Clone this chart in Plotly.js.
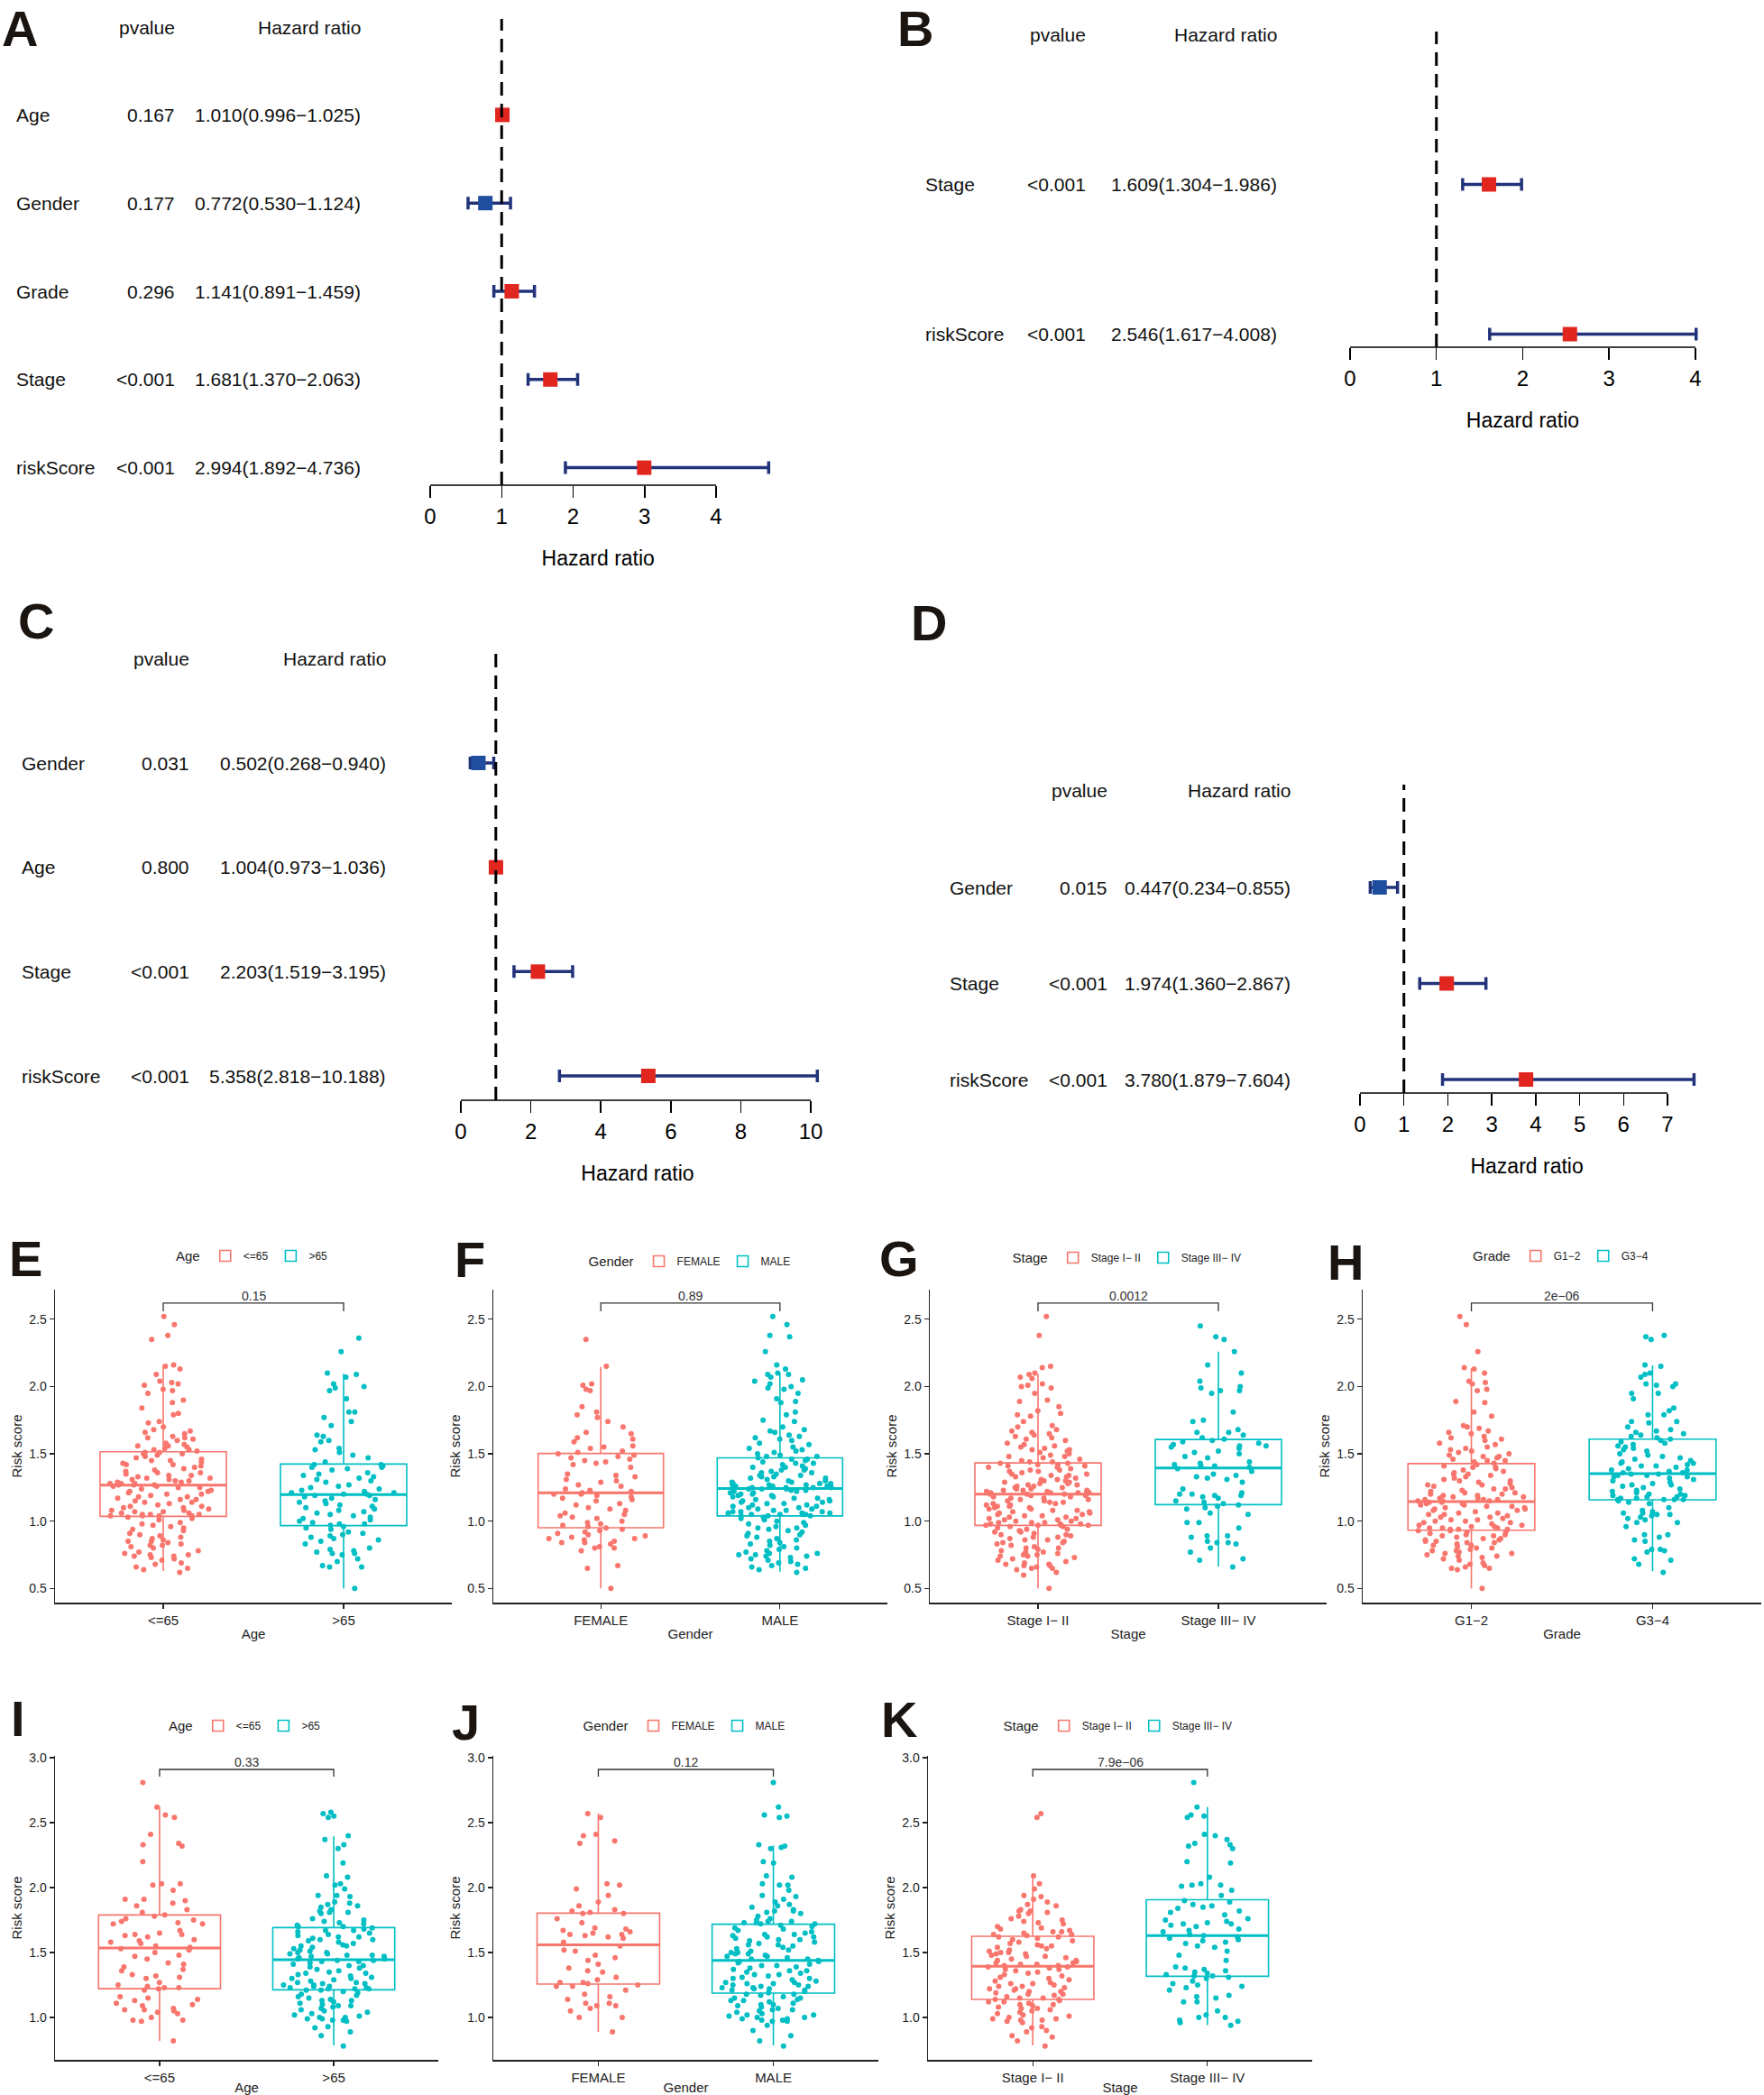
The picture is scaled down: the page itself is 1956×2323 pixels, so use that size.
<!DOCTYPE html>
<html><head><meta charset="utf-8">
<script src="https://cdn.plot.ly/plotly-3.0.1.min.js"></script>
<style>html,body{margin:0;padding:0;background:#fff}</style>
</head><body>
<div id="chart" style="width:1956px;height:2323px"></div>
<script>
// ---------------- Forest plot data ----------------
const A_vars=['Age','Gender','Grade','Stage','riskScore'];
const A_p=['0.167','0.177','0.296','<0.001','<0.001'];
const A_hr=[1.010,0.772,1.141,1.681,2.994];
const A_lo=[0.996,0.530,0.891,1.370,1.892];
const A_hi=[1.025,1.124,1.459,2.063,4.736];
const A_ticks=[0,1,2,3,4];

const B_vars=['Stage','riskScore'];
const B_p=['<0.001','<0.001'];
const B_hr=[1.609,2.546];
const B_lo=[1.304,1.617];
const B_hi=[1.986,4.008];
const B_ticks=[0,1,2,3,4];

const C_vars=['Gender','Age','Stage','riskScore'];
const C_p=['0.031','0.800','<0.001','<0.001'];
const C_hr=[0.502,1.004,2.203,5.358];
const C_lo=[0.268,0.973,1.519,2.818];
const C_hi=[0.940,1.036,3.195,10.188];
const C_ticks=[0,2,4,6,8,10];

const D_vars=['Gender','Stage','riskScore'];
const D_p=['0.015','<0.001','<0.001'];
const D_hr=[0.447,1.974,3.780];
const D_lo=[0.234,1.360,1.879];
const D_hi=[0.855,2.867,7.604];
const D_ticks=[0,1,2,3,4,5,6,7];

// ---------------- Box plot data ----------------
const E_cats=['<=65','>65'];
const E_box={q1:[1.036,0.967],med:[1.267,1.198],q3:[1.516,1.424],lo:[0.629,0.50],hi:[2.158,2.096]};
const E_g1=[2.52,2.46,2.38,2.35,2.16,2.15,2.13,2.09,2.04,2.03,2.02,2.01,1.98,1.97,1.95,1.90,1.88,1.84,1.80,1.79,1.74,1.73,1.70,1.68,1.67,1.66,1.65,1.63,1.62,1.62,1.61,1.60,1.58,1.57,1.56,1.56,1.55,1.54,1.53,1.53,
1.52,1.51,1.51,1.50,1.50,1.49,1.48,1.47,1.46,1.45,1.45,1.44,1.43,1.42,1.42,1.41,1.40,1.39,1.38,1.37,1.36,1.36,1.35,1.34,1.34,1.33,1.32,1.32,1.31,1.31,1.30,1.30,1.29,1.29,1.28,1.28,1.28,1.27,1.27,1.27,
1.26,1.26,1.25,1.25,1.24,1.23,1.22,1.22,1.21,1.20,1.20,1.19,1.18,1.18,1.17,1.16,1.16,1.15,1.14,1.14,1.13,1.12,1.11,1.11,1.10,1.10,1.09,1.08,1.08,1.07,1.07,1.06,1.06,1.05,1.05,1.05,1.04,1.04,1.04,1.04,
1.03,1.02,1.01,0.99,0.98,0.97,0.96,0.95,0.94,0.93,0.91,0.90,0.89,0.88,0.87,0.86,0.85,0.85,0.84,0.83,0.82,0.82,0.81,0.80,0.78,0.77,0.76,0.75,0.75,0.74,0.74,0.73,0.72,0.71,0.69,0.68,0.66,0.65,0.64,0.62];
const E_g2=[2.36,2.26,2.10,2.09,2.07,2.02,2.00,1.99,1.97,1.91,1.81,1.81,1.77,1.74,1.71,1.64,1.63,1.60,1.59,1.54,1.53,1.51,1.49,1.47,1.44,
1.42,1.42,1.41,1.40,1.40,1.39,1.38,1.36,1.35,1.34,1.33,1.32,1.31,1.30,1.29,1.27,1.26,1.25,1.24,1.23,1.22,1.21,1.21,1.20,1.20,
1.19,1.19,1.18,1.17,1.16,1.15,1.14,1.13,1.12,1.11,1.10,1.09,1.08,1.07,1.06,1.05,1.04,1.03,1.02,1.01,1.00,0.99,0.98,0.98,0.97,
0.96,0.95,0.94,0.92,0.91,0.90,0.89,0.88,0.87,0.86,0.85,0.83,0.80,0.79,0.78,0.77,0.76,0.76,0.75,0.72,0.70,0.67,0.66,0.66,0.50];

const F_cats=['FEMALE','MALE'];
const F_box={q1:[0.951,1.039],med:[1.21,1.242],q3:[1.503,1.47],lo:[0.50,0.624],hi:[2.146,2.10]};
const F_g1=[2.35,2.15,2.02,2.01,1.98,1.97,1.85,1.81,1.79,1.77,1.74,1.70,1.66,1.65,1.62,1.61,1.59,1.56,1.55,1.54,1.52,1.51,
1.50,1.49,1.48,1.47,1.46,1.45,1.44,1.43,1.42,1.40,1.35,1.34,1.33,1.31,1.30,1.29,1.27,1.26,1.24,1.23,1.22,1.21,
1.20,1.20,1.19,1.18,1.17,1.16,1.15,1.13,1.12,1.10,1.09,1.08,1.06,1.05,1.04,1.03,1.02,1.00,0.99,0.98,0.97,0.96,
0.95,0.94,0.93,0.92,0.91,0.90,0.89,0.88,0.87,0.87,0.86,0.85,0.84,0.84,0.83,0.81,0.80,0.80,0.78,0.67,0.65,0.50];
const F_g2=[2.52,2.46,2.38,2.37,2.26,2.16,2.13,2.10,2.09,2.09,2.07,2.05,2.04,2.02,2.00,1.99,1.98,1.95,1.91,1.89,1.88,1.81,1.79,1.75,1.74,1.70,1.68,1.67,1.66,1.64,1.63,1.62,1.61,1.60,1.58,1.57,1.55,1.54,1.53,1.52,1.51,1.50,1.49,1.48,1.48,
1.47,1.46,1.46,1.45,1.44,1.43,1.43,1.42,1.41,1.40,1.40,1.39,1.38,1.38,1.37,1.36,1.36,1.35,1.34,1.34,1.33,1.33,1.32,1.32,1.31,1.30,1.30,1.29,1.29,1.28,1.28,1.28,1.27,1.27,1.27,1.26,1.26,1.26,1.25,1.25,1.25,1.25,1.24,1.24,1.24,
1.23,1.23,1.22,1.22,1.21,1.21,1.20,1.20,1.19,1.19,1.18,1.18,1.17,1.17,1.16,1.16,1.15,1.15,1.14,1.14,1.13,1.13,1.12,1.12,1.11,1.11,1.10,1.10,1.09,1.09,1.08,1.08,1.07,1.07,1.07,1.06,1.06,1.06,1.05,1.05,1.05,1.05,1.04,1.04,1.04,
1.03,1.02,1.01,1.00,0.99,0.98,0.97,0.96,0.95,0.95,0.94,0.93,0.92,0.91,0.90,0.89,0.88,0.87,0.86,0.85,0.84,0.83,0.82,0.81,0.80,0.79,0.78,0.77,0.76,0.76,0.75,0.75,0.74,0.74,0.73,0.72,0.71,0.70,0.69,0.68,0.67,0.66,0.65,0.64,0.62];

const G_cats=['Stage I\u2212 II','Stage III\u2212 IV'];
const G_box={q1:[0.969,1.123],med:[1.201,1.395],q3:[1.433,1.607],lo:[0.50,0.663],hi:[2.096,2.259]};
const G_g1=[2.52,2.38,2.15,2.14,2.10,2.09,2.07,2.06,2.02,2.01,2.00,1.99,1.95,1.90,1.89,1.85,1.82,1.80,1.79,1.78,1.74,1.71,1.70,1.68,1.67,1.66,1.65,1.64,1.63,1.62,1.61,1.60,1.58,1.57,1.56,1.55,1.54,1.53,1.53,1.52,1.51,1.50,1.49,1.48,1.48,1.47,1.46,1.45,1.44,1.44,
1.43,1.43,1.42,1.42,1.41,1.41,1.40,1.40,1.39,1.38,1.38,1.37,1.37,1.36,1.35,1.35,1.34,1.34,1.33,1.33,1.32,1.31,1.31,1.30,1.30,1.29,1.29,1.28,1.28,1.27,1.27,1.26,1.26,1.25,1.25,1.24,1.24,1.23,1.23,1.23,1.22,1.22,1.22,1.21,1.21,1.21,1.21,1.20,1.20,1.20,
1.19,1.19,1.18,1.18,1.17,1.17,1.16,1.16,1.15,1.15,1.14,1.14,1.13,1.13,1.12,1.12,1.11,1.11,1.10,1.10,1.09,1.09,1.08,1.08,1.07,1.07,1.06,1.06,1.05,1.05,1.04,1.04,1.03,1.03,1.02,1.02,1.01,1.01,1.00,1.00,0.99,0.99,0.99,0.98,0.98,0.98,0.97,0.97,0.97,0.97,
0.96,0.96,0.95,0.94,0.94,0.93,0.92,0.92,0.91,0.90,0.90,0.89,0.88,0.88,0.87,0.86,0.86,0.85,0.84,0.84,0.83,0.82,0.81,0.80,0.80,0.79,0.78,0.77,0.77,0.76,0.75,0.75,0.74,0.74,0.73,0.72,0.71,0.70,0.69,0.68,0.68,0.67,0.67,0.66,0.65,0.65,0.64,0.62,0.60,0.50];
const G_g2=[2.45,2.37,2.35,2.26,2.16,2.10,2.04,2.00,1.99,1.97,1.97,1.95,1.81,1.75,1.74,1.68,1.66,1.66,1.64,1.62,
1.61,1.60,1.59,1.58,1.57,1.56,1.56,1.55,1.54,1.52,1.51,1.50,1.48,1.47,1.44,1.43,1.42,1.41,1.41,1.40,
1.39,1.37,1.35,1.34,1.33,1.32,1.31,1.29,1.24,1.21,1.20,1.20,1.19,1.19,1.18,1.17,1.15,1.14,1.13,1.12,
1.11,1.10,1.09,1.06,1.05,0.99,0.99,0.95,0.89,0.89,0.88,0.85,0.84,0.84,0.83,0.80,0.77,0.72,0.71,0.66];

const H_cats=['G1\u22122','G3\u22124'];
const H_box={q1:[0.933,1.159],med:[1.145,1.353],q3:[1.428,1.609],lo:[0.50,0.628],hi:[2.135,2.157]};
const H_g1=[2.52,2.46,2.26,2.14,2.13,2.10,2.04,2.03,2.02,1.98,1.97,1.89,1.88,1.81,1.78,1.71,1.70,1.69,1.67,1.66,1.65,1.63,1.62,1.61,1.60,1.58,1.57,1.55,1.54,1.53,1.52,1.51,1.50,1.49,1.48,1.48,1.47,1.46,1.45,1.45,1.44,1.43,
1.42,1.41,1.40,1.40,1.39,1.38,1.37,1.36,1.35,1.35,1.34,1.33,1.32,1.31,1.30,1.30,1.29,1.28,1.27,1.27,1.26,1.25,1.24,1.24,1.23,1.22,1.21,1.21,1.20,1.20,1.19,1.19,1.18,1.18,1.17,1.17,1.16,1.16,1.16,1.15,1.15,1.15,
1.14,1.14,1.13,1.13,1.12,1.12,1.11,1.11,1.10,1.10,1.09,1.09,1.08,1.08,1.07,1.06,1.06,1.05,1.05,1.04,1.03,1.03,1.02,1.01,1.01,1.00,1.00,0.99,0.99,0.98,0.97,0.97,0.96,0.96,0.95,0.95,0.95,0.94,0.94,0.94,0.93,0.93,
0.92,0.92,0.91,0.90,0.90,0.89,0.89,0.88,0.87,0.87,0.86,0.86,0.85,0.85,0.84,0.84,0.83,0.82,0.82,0.81,0.80,0.80,0.79,0.78,0.78,0.77,0.76,0.76,0.75,0.74,0.74,0.73,0.72,0.71,0.69,0.68,0.67,0.66,0.65,0.65,0.64,0.50];
const H_g2=[2.38,2.37,2.35,2.16,2.15,2.10,2.09,2.07,2.02,2.02,2.01,2.00,1.95,1.95,1.91,1.84,1.82,1.79,1.79,1.74,1.74,1.73,1.70,1.68,1.67,1.66,1.65,1.64,1.63,1.62,
1.61,1.60,1.59,1.58,1.57,1.56,1.55,1.54,1.53,1.52,1.50,1.49,1.48,1.47,1.46,1.45,1.44,1.43,1.43,1.42,1.41,1.41,1.40,1.39,1.38,1.38,1.37,1.36,1.36,1.35,
1.35,1.34,1.34,1.33,1.33,1.32,1.31,1.30,1.29,1.28,1.27,1.27,1.26,1.25,1.24,1.23,1.22,1.21,1.20,1.20,1.19,1.19,1.18,1.18,1.17,1.17,1.16,1.16,1.16,1.16,
1.15,1.14,1.13,1.10,1.08,1.07,1.06,1.06,1.05,1.05,1.04,1.03,1.02,1.01,0.99,0.99,0.96,0.90,0.90,0.88,0.86,0.85,0.79,0.79,0.78,0.77,0.72,0.71,0.68,0.62];

const I_cats=['<=65','>65'];
const I_box={q1:[1.222,1.213],med:[1.535,1.444],q3:[1.789,1.692],lo:[0.82,0.785],hi:[2.625,2.394]};
const I_g1=[2.81,2.62,2.56,2.54,2.41,2.34,2.33,2.32,2.20,2.03,2.03,2.02,1.98,1.91,1.91,1.90,1.88,1.86,1.83,1.81,
1.79,1.78,1.76,1.75,1.74,1.73,1.72,1.72,1.67,1.65,1.64,1.64,1.63,1.62,1.60,1.59,1.58,1.57,1.55,1.54,
1.53,1.52,1.50,1.48,1.47,1.45,1.42,1.41,1.39,1.37,1.36,1.33,1.32,1.31,1.30,1.27,1.25,1.24,1.23,1.23,
1.22,1.21,1.16,1.15,1.14,1.13,1.11,1.10,1.09,1.07,1.06,1.06,1.05,1.04,1.03,1.00,0.98,0.98,0.97,0.82];
const I_g2=[2.58,2.57,2.55,2.54,2.40,2.37,2.33,2.30,2.19,2.09,2.08,2.03,2.02,1.99,1.94,1.94,1.93,1.89,1.88,1.87,1.86,1.85,1.83,1.82,1.81,1.81,1.80,1.76,1.75,1.74,1.73,1.72,1.71,1.70,1.70,
1.69,1.68,1.67,1.67,1.66,1.65,1.64,1.63,1.62,1.62,1.61,1.60,1.60,1.59,1.58,1.57,1.56,1.55,1.55,1.54,1.53,1.52,1.51,1.50,1.50,1.49,1.49,1.48,1.48,1.47,1.47,1.46,1.45,1.45,1.44,
1.44,1.43,1.43,1.42,1.41,1.40,1.40,1.39,1.38,1.37,1.36,1.35,1.34,1.34,1.33,1.32,1.31,1.30,1.30,1.29,1.28,1.27,1.27,1.26,1.26,1.25,1.25,1.24,1.24,1.23,1.23,1.22,1.22,1.22,1.21,
1.21,1.20,1.19,1.18,1.17,1.16,1.15,1.14,1.13,1.13,1.12,1.11,1.10,1.09,1.09,1.08,1.07,1.06,1.05,1.04,1.03,1.02,1.01,1.00,1.00,0.99,0.99,0.98,0.98,0.97,0.93,0.92,0.89,0.86,0.78];

const J_cats=['FEMALE','MALE'];
const J_box={q1:[1.257,1.188],med:[1.56,1.44],q3:[1.803,1.718],lo:[0.889,0.785],hi:[2.572,2.324]};
const J_g1=[2.57,2.54,2.41,2.40,2.36,2.34,2.03,2.02,1.99,1.94,1.89,1.86,1.83,1.82,1.81,
1.80,1.80,1.76,1.73,1.69,1.68,1.67,1.66,1.65,1.64,1.64,1.63,1.62,1.61,1.58,
1.55,1.52,1.51,1.48,1.46,1.44,1.41,1.38,1.36,1.35,1.31,1.29,1.27,1.27,1.26,
1.25,1.24,1.24,1.21,1.18,1.16,1.14,1.11,1.11,1.09,1.09,1.07,1.05,1.00,1.00,0.89];
const J_g2=[2.81,2.62,2.56,2.55,2.54,2.33,2.32,2.31,2.30,2.20,2.19,2.09,2.08,2.03,2.02,2.02,1.98,1.94,1.93,1.91,1.89,1.87,1.86,1.85,1.83,1.82,1.82,1.81,1.80,1.78,1.76,1.75,1.74,1.74,1.73,1.73,1.72,
1.72,1.71,1.70,1.69,1.68,1.67,1.66,1.65,1.64,1.64,1.63,1.62,1.62,1.61,1.60,1.60,1.59,1.58,1.57,1.56,1.56,1.55,1.54,1.53,1.52,1.51,1.50,1.50,1.49,1.49,1.48,1.47,1.47,1.46,1.45,1.45,1.44,
1.43,1.43,1.42,1.41,1.40,1.40,1.39,1.38,1.37,1.36,1.36,1.35,1.34,1.33,1.33,1.32,1.31,1.30,1.30,1.29,1.28,1.27,1.27,1.26,1.26,1.25,1.25,1.24,1.24,1.23,1.23,1.22,1.22,1.21,1.21,1.20,1.19,
1.18,1.18,1.17,1.16,1.15,1.15,1.14,1.13,1.13,1.12,1.11,1.10,1.10,1.09,1.08,1.07,1.06,1.06,1.05,1.04,1.03,1.02,1.02,1.01,1.00,1.00,0.99,0.99,0.98,0.98,0.97,0.97,0.94,0.90,0.86,0.82,0.78];

const K_cats=['Stage I\u2212 II','Stage III\u2212 IV'];
const K_box={q1:[1.139,1.317],med:[1.394,1.63],q3:[1.625,1.907],lo:[0.785,0.942],hi:[2.093,2.62]};
const K_g1=[2.57,2.54,2.09,2.03,1.99,1.94,1.93,1.91,1.89,1.87,1.86,1.83,1.82,1.82,1.81,1.80,1.78,1.76,1.75,1.74,1.73,1.72,1.70,1.69,1.68,1.67,1.66,1.66,1.65,1.64,1.64,1.63,
1.62,1.62,1.61,1.60,1.59,1.58,1.57,1.56,1.55,1.55,1.54,1.53,1.52,1.51,1.50,1.50,1.49,1.49,1.48,1.47,1.47,1.46,1.45,1.44,1.44,1.43,1.42,1.42,1.41,1.41,1.40,1.40,1.39,
1.39,1.38,1.37,1.37,1.36,1.35,1.34,1.33,1.32,1.31,1.30,1.29,1.28,1.27,1.26,1.26,1.25,1.24,1.24,1.23,1.22,1.22,1.21,1.20,1.20,1.19,1.18,1.18,1.17,1.16,1.15,1.15,1.14,
1.14,1.13,1.12,1.12,1.11,1.10,1.10,1.09,1.08,1.07,1.07,1.06,1.05,1.04,1.03,1.02,1.01,1.00,0.99,0.99,0.98,0.98,0.97,0.96,0.93,0.92,0.90,0.89,0.86,0.85,0.82,0.78];
const K_g2=[2.81,2.62,2.56,2.55,2.54,2.41,2.40,2.37,2.34,2.33,2.32,2.30,2.20,2.19,2.08,2.03,2.02,2.02,2.01,1.98,1.94,
1.90,1.89,1.87,1.86,1.85,1.84,1.82,1.81,1.79,1.76,1.75,1.74,1.73,1.72,1.72,1.71,1.70,1.68,1.67,1.66,1.64,
1.63,1.62,1.61,1.60,1.59,1.58,1.57,1.55,1.54,1.51,1.48,1.44,1.39,1.38,1.37,1.36,1.35,1.34,1.33,1.32,1.32,
1.31,1.30,1.28,1.26,1.25,1.24,1.23,1.21,1.17,1.16,1.15,1.12,1.12,1.05,1.02,1.00,1.00,0.98,0.97,0.96,0.94];

// ---------------- Build figure ----------------
const W=1956,H=2323;
const FONT='"Liberation Sans", Arial, Helvetica, sans-serif';
const RED='#F8766D', TEAL='#00BFC4';
const SQ_RED='#E1251F', SQ_BLUE='#1F4E9F', NAVY='#22337A';
const traces=[], shapes=[], annotations=[];
const layout={width:W,height:H,margin:{l:0,r:0,t:0,b:0,pad:0},paper_bgcolor:'#ffffff',plot_bgcolor:'rgba(0,0,0,0)',
  font:{family:FONT,color:'#000'},showlegend:true,boxmode:'overlay',shapes:shapes,annotations:annotations};
const sfx=k=>k===1?'':String(k);
function letter(t,x,y){annotations.push({xref:'paper',yref:'paper',x:x/W,y:1-y/H,xanchor:'left',yanchor:'middle',
  text:'<b>'+t+'</b>',showarrow:false,font:{family:FONT,size:56,color:'#1b1512'}});}

function forest(k,d,c){
  const s=sfx(k), xa='x'+s, ya='y'+s;
  const n=d.vars.length;
  const rows=d.vars.map((_,i)=>n-i);
  const sp=(c.rowBot-c.rowTop)/(n-1);
  const yr=[1-(c.axisPx-c.rowBot)/sp, 1+(c.rowBot-c.dashTop)/sp];
  const tmax=d.ticks[d.ticks.length-1];
  const sc=(c.pMax-c.p0)/tmax;
  const xd=[c.p0+c.range[0]*sc, c.p0+c.range[1]*sc];
  layout['xaxis'+s]={domain:[xd[0]/W,xd[1]/W],range:c.range,anchor:ya,tickvals:d.ticks,ticks:'outside',ticklen:13,tickwidth:1.5,
    tickcolor:'#000',showline:false,showgrid:false,zeroline:false,tickfont:{size:24,color:'#000'},
    title:{text:'Hazard ratio',font:{size:23,color:'#000'},standoff:26},fixedrange:true};
  layout['yaxis'+s]={domain:[1-c.axisPx/H,1-c.dashTop/H],range:yr,anchor:xa,visible:false,fixedrange:true};
  shapes.push({type:'line',xref:xa,yref:ya+' domain',x0:1,x1:1,y0:0,y1:1,line:{color:'#000',width:3,dash:'15px,9px'}});
  shapes.push({type:'line',xref:xa,yref:ya+' domain',x0:d.ticks[0],x1:tmax,y0:0,y1:0,line:{color:'#000',width:1.5}});
  traces.push({type:'scatter',mode:'markers',x:d.hr,y:rows,xaxis:xa,yaxis:ya,showlegend:false,hoverinfo:'skip',cliponaxis:false,
    marker:{symbol:'square',size:16,color:d.hr.map(v=>v<1?SQ_BLUE:SQ_RED),line:{width:0}},
    error_x:{type:'data',symmetric:false,array:d.hi.map((h,i)=>h-d.hr[i]),arrayminus:d.lo.map((l,i)=>d.hr[i]-l),
      color:NAVY,thickness:3.5,width:7}});
  const tf={family:FONT,size:21,color:'#111'};
  annotations.push({xref:'paper',yref:'paper',x:c.pRight/W,y:1-c.headY/H,xanchor:'right',yanchor:'middle',text:'pvalue',showarrow:false,font:tf});
  annotations.push({xref:'paper',yref:'paper',x:c.hrRight/W,y:1-c.headY/H,xanchor:'right',yanchor:'middle',text:'Hazard ratio',showarrow:false,font:tf});
  d.vars.forEach((v,i)=>{
    annotations.push({xref:'paper',yref:ya,x:c.labelX/W,y:rows[i],xanchor:'left',yanchor:'middle',text:v,showarrow:false,font:tf});
    annotations.push({xref:'paper',yref:ya,x:c.pRight/W,y:rows[i],xanchor:'right',yanchor:'middle',text:d.p[i],showarrow:false,font:tf});
    annotations.push({xref:'paper',yref:ya,x:c.hrRight/W,y:rows[i],xanchor:'right',yanchor:'middle',
      text:d.hr[i].toFixed(3)+'('+d.lo[i].toFixed(3)+'\u2212'+d.hi[i].toFixed(3)+')',showarrow:false,font:tf});
  });
  letter(c.letter,c.lx,c.ly);
}

forest(1,{vars:A_vars,p:A_p,hr:A_hr,lo:A_lo,hi:A_hi,ticks:A_ticks},
  {letter:'A',lx:0,ly:32,labelX:16,pRight:196,hrRight:402,headY:30,rowTop:127.4,rowBot:518.6,axisPx:538,dashTop:21,p0:477,pMax:794,range:[-0.3,5.0]});
forest(2,{vars:B_vars,p:B_p,hr:B_hr,lo:B_lo,hi:B_hi,ticks:B_ticks},
  {letter:'B',lx:993,ly:32,labelX:1024,pRight:1206,hrRight:1418,headY:39,rowTop:204.5,rowBot:370.5,axisPx:385,dashTop:35,p0:1497,pMax:1880,range:[-0.3,4.3]});
forest(3,{vars:C_vars,p:C_p,hr:C_hr,lo:C_lo,hi:C_hi,ticks:C_ticks},
  {letter:'C',lx:18,ly:688,labelX:22,pRight:212,hrRight:430,headY:731,rowTop:846,rowBot:1193,axisPx:1220,dashTop:724,p0:511,pMax:899,range:[-0.5,10.6]});
forest(4,{vars:D_vars,p:D_p,hr:D_hr,lo:D_lo,hi:D_hi,ticks:D_ticks},
  {letter:'D',lx:1008,ly:691,labelX:1051,pRight:1230,hrRight:1433,headY:876,rowTop:984,rowBot:1197,axisPx:1212,dashTop:870,p0:1508,pMax:1849,range:[-0.3,7.9]});

const ROW1={yd:[1430,1777],yr:[0.395,2.72],ticks:[0.5,1,1.5,2,2.5],br:[2.56,2.62,2.675]};
const ROW2={yd:[1947,2284],yr:[0.674,3.014],ticks:[1,1.5,2,2.5,3],br:[2.855,2.91,2.965]};

function boxPanel(k,d,c){
  const s=sfx(k), xa='x'+s, ya='y'+s;
  const row=c.row===1?ROW1:ROW2;
  const leg=c.leg===1?'legend':'legend'+c.leg;
  const dark='#222';
  layout['xaxis'+s]={domain:[c.xd[0]/W,c.xd[1]/W],anchor:ya,type:'category',categoryorder:'array',categoryarray:d.cats,range:[-0.6,1.6],
    showline:true,linecolor:dark,linewidth:1.5,ticks:'outside',ticklen:5,tickwidth:1.3,tickcolor:dark,showgrid:false,zeroline:false,
    tickfont:{size:15,color:dark},title:{text:c.xTitle,font:{size:15,color:dark},standoff:3},fixedrange:true};
  layout['yaxis'+s]={domain:[1-row.yd[1]/H,1-row.yd[0]/H],anchor:xa,range:row.yr,tickvals:row.ticks,ticktext:row.ticks.map(v=>v.toFixed(1)),
    showline:true,linecolor:dark,linewidth:1.5,ticks:'outside',ticklen:5,tickwidth:1.3,tickcolor:dark,showgrid:false,zeroline:false,
    tickfont:{size:14,color:dark},title:{text:'Risk score',font:{size:15,color:dark},standoff:4},fixedrange:true};
  const cols=[RED,TEAL];
  d.cats.forEach((cat,i)=>{
    traces.push({type:'box',x:[cat],q1:[d.box.q1[i]],median:[d.box.med[i]],q3:[d.box.q3[i]],lowerfence:[d.box.lo[i]],upperfence:[d.box.hi[i]],
      name:cat,xaxis:xa,yaxis:ya,legend:leg,showlegend:true,width:0.7,whiskerwidth:0,boxpoints:false,
      line:{color:cols[i],width:1.6},fillcolor:'rgba(255,255,255,0)',hoverinfo:'skip'});
    // thicker median bar (ggplot draws the median at double width)
    shapes.push({type:'line',xref:xa,yref:ya,x0:i-0.35,x1:i+0.35,y0:d.box.med[i],y1:d.box.med[i],layer:'below',line:{color:cols[i],width:3}});
  });
  d.cats.forEach((cat,i)=>{
    traces.push({type:'box',x0:cat,y:d.pts[i],name:cat,xaxis:xa,yaxis:ya,showlegend:false,width:0.7,boxpoints:'all',jitter:0.85,pointpos:0,
      line:{width:0,color:'rgba(0,0,0,0)'},fillcolor:'rgba(0,0,0,0)',marker:{color:cols[i],size:6,opacity:1},hoverinfo:'skip'});
  });
  traces.push({type:'scatter',mode:'lines',x:[d.cats[0],d.cats[0],d.cats[1],d.cats[1]],y:[row.br[0],row.br[1],row.br[1],row.br[0]],
    xaxis:xa,yaxis:ya,showlegend:false,hoverinfo:'skip',line:{color:'#333',width:1.3},cliponaxis:false});
  annotations.push({xref:xa,yref:ya,x:0.5,y:row.br[2],text:d.p,showarrow:false,xanchor:'center',yanchor:'middle',font:{size:14,color:'#333'}});
  layout[leg]={x:c.legX/W,y:1-c.legY/H,xanchor:'center',yanchor:'middle',orientation:'h',bgcolor:'rgba(0,0,0,0)',
    title:{text:c.legTitle,side:'left',font:{size:15,color:dark}},font:{size:12,color:dark},itemwidth:30,traceorder:'normal'};
  letter(c.letter,c.lx,c.ly);
}

boxPanel(5,{cats:E_cats,box:E_box,pts:[E_g1,E_g2],p:'0.15'},{row:1,leg:1,xd:[61,501],xTitle:'Age',legTitle:'Age',legX:281,legY:1393,letter:'E',lx:8,ly:1395});
boxPanel(6,{cats:F_cats,box:F_box,pts:[F_g1,F_g2],p:'0.89'},{row:1,leg:2,xd:[547,984],xTitle:'Gender',legTitle:'Gender',legX:766,legY:1399,letter:'F',lx:502,ly:1397});
boxPanel(7,{cats:G_cats,box:G_box,pts:[G_g1,G_g2],p:'0.0012'},{row:1,leg:3,xd:[1031,1471],xTitle:'Stage',legTitle:'Stage',legX:1251,legY:1395,letter:'G',lx:973,ly:1395});
boxPanel(8,{cats:H_cats,box:H_box,pts:[H_g1,H_g2],p:'2e\u221206'},{row:1,leg:4,xd:[1511,1953],xTitle:'Grade',legTitle:'Grade',legX:1732,legY:1393,letter:'H',lx:1470,ly:1399});
boxPanel(9,{cats:I_cats,box:I_box,pts:[I_g1,I_g2],p:'0.33'},{row:2,leg:5,xd:[61,486],xTitle:'Age',legTitle:'Age',legX:273,legY:1914,letter:'I',lx:10,ly:1905});
boxPanel(10,{cats:J_cats,box:J_box,pts:[J_g1,J_g2],p:'0.12'},{row:2,leg:6,xd:[547,974],xTitle:'Gender',legTitle:'Gender',legX:760,legY:1914,letter:'J',lx:499,ly:1909});
boxPanel(11,{cats:K_cats,box:K_box,pts:[K_g1,K_g2],p:'7.9e\u221206'},{row:2,leg:7,xd:[1029,1455],xTitle:'Stage',legTitle:'Stage',legX:1241,legY:1914,letter:'K',lx:975,ly:1906});

Plotly.newPlot('chart',traces,layout,{staticPlot:true,displayModeBar:false});
</script>
</body></html>
